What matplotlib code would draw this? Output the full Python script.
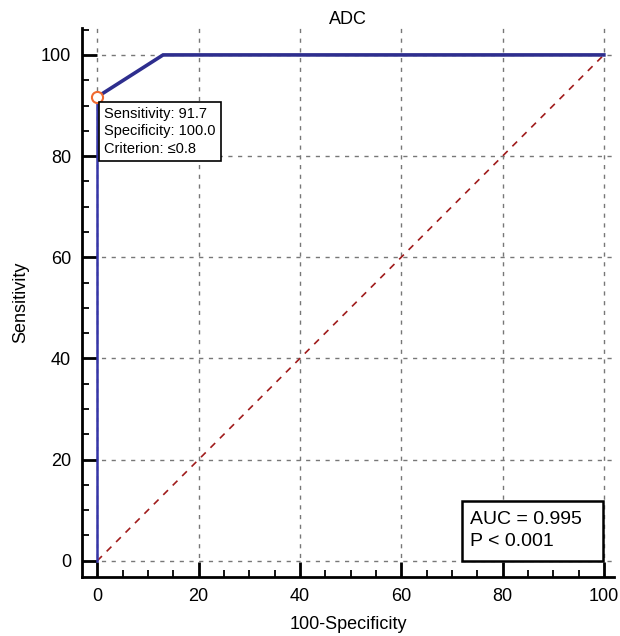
import matplotlib.pyplot as plt
from matplotlib.patches import Rectangle
from matplotlib.ticker import MultipleLocator

plt.rcParams['font.family'] = ['Liberation Sans', 'DejaVu Sans']

# ROC curve points (100-Specificity, Sensitivity)
fpr = [0, 0, 13, 100]
tpr = [0, 91.7, 100, 100]
cut_x, cut_y = 0, 91.7
sens, spec, crit = 91.7, 100.0, 0.8
auc, pval = 0.995, 0.001
ticks = [0, 20, 40, 60, 80, 100]

fig = plt.figure(figsize=(6.2, 6.36), dpi=100)
ax = fig.add_axes([0.1323, 0.0928, 0.858, 0.863])

ax.plot([0, 100], [0, 100], color='#a01c1c', ls=(0, (4, 4)), lw=1.2, zorder=2)
ax.plot(fpr[:2], tpr[:2], color='#3535a8', lw=1.8, zorder=3)
ax.plot(fpr[1:], tpr[1:], color='#2e2e8e', lw=2.6, zorder=3, solid_joinstyle='miter')
ax.plot([cut_x], [cut_y], 'o', ms=8, mfc='white', mec='#f06a30', mew=1.5, zorder=4)

ax.text(cut_x + 1.4, cut_y - 2.0,
        f"Sensitivity: {sens}\nSpecificity: {spec:.1f}\nCriterion: \u2264{crit}",
        fontsize=10.5, va='top', ha='left', linespacing=1.3, zorder=5,
        bbox=dict(boxstyle='square,pad=0.35', fc='white', ec='black', lw=1.2))

# AUC box
ax.add_patch(Rectangle((72.0, 0.0), 27.8, 11.9, fc='white', ec='black', lw=1.8, zorder=5))
ax.text(73.6, 6.0, f"AUC = {auc}\nP < {pval}", fontsize=14, va='center', ha='left',
        linespacing=1.4, zorder=6)

ax.set_xlim(-3, 102)
ax.set_ylim(-3.2, 105.3)
ax.set_xticks(ticks)
ax.set_yticks(ticks)
ax.xaxis.set_minor_locator(MultipleLocator(5))
ax.yaxis.set_minor_locator(MultipleLocator(5))
ax.tick_params(which='major', direction='in', length=11, width=2, labelsize=13, pad=8)
ax.tick_params(which='minor', direction='in', length=5, width=1.3)
ax.grid(True, which='major', color='#777777', ls=(0, (3, 4)), lw=1)
ax.set_axisbelow(True)

for s in ['top', 'right']:
    ax.spines[s].set_visible(False)
for s in ['left', 'bottom']:
    ax.spines[s].set_linewidth(2)

ax.set_title('ADC', fontsize=13, pad=1)
ax.set_xlabel('100-Specificity', fontsize=13, labelpad=8)
ax.set_ylabel('Sensitivity', fontsize=13, labelpad=8)

fig.savefig('out.png', dpi=100)
